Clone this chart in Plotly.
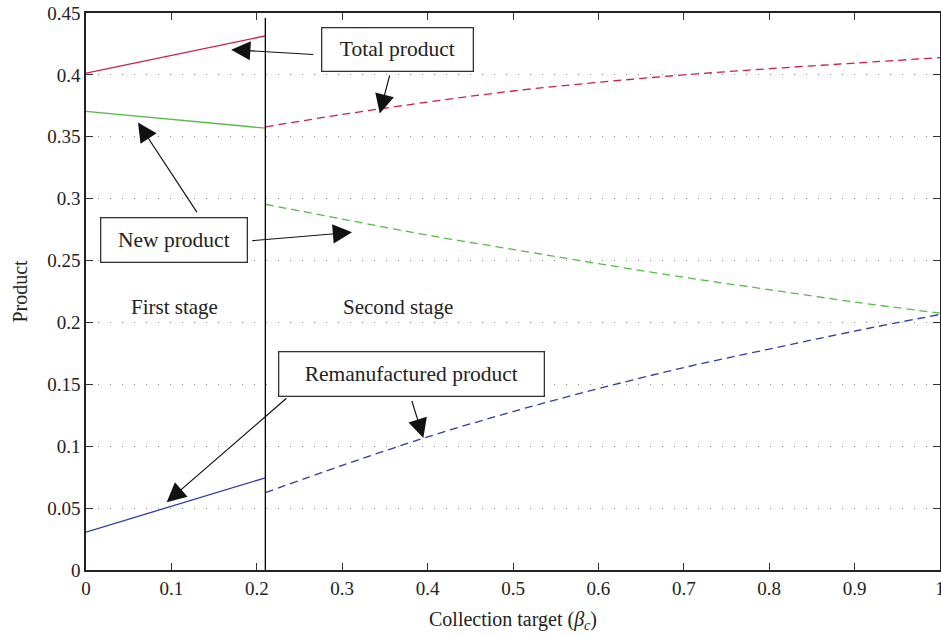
import plotly.graph_objects as go

# ---- data ----
x_stage1 = [0.0, 0.1, 0.21]
total_stage1 = [0.4014, 0.4160, 0.4315]
new_stage1 = [0.3705, 0.3641, 0.3570]
reman_stage1 = [0.0306, 0.0515, 0.0745]

x_stage2 = [0.21, 0.3, 0.4, 0.5, 0.6, 0.7, 0.8, 0.9, 1.0]
total_stage2 = [0.358, 0.368, 0.378, 0.387, 0.394, 0.400, 0.405, 0.4095, 0.414]
new_stage2 = [0.2955, 0.2835, 0.2705, 0.259, 0.2475, 0.2365, 0.2265, 0.2165, 0.2075]
reman_stage2 = [0.0625, 0.0845, 0.1075, 0.128, 0.1465, 0.1635, 0.1785, 0.1930, 0.2065]

stage_boundary = 0.21
x_ticks = [0.0, 0.1, 0.2, 0.3, 0.4, 0.5, 0.6, 0.7, 0.8, 0.9, 1.0]
x_tick_labels = ["0", "0.1", "0.2", "0.3", "0.4", "0.5", "0.6", "0.7", "0.8", "0.9", "1"]
y_ticks = [0, 0.05, 0.1, 0.15, 0.2, 0.25, 0.3, 0.35, 0.4, 0.45]
y_tick_labels = ["0", "0.05", "0.1", "0.15", "0.2", "0.25", "0.3", "0.35", "0.4", "0.45"]

RED = "#d01c45"
GREEN = "#55bb45"
BLUE = "#2b3ea8"
FONT = "Liberation Serif"

fig = go.Figure()
for xs, ys, col, dash, shape in [
    (x_stage1, total_stage1, RED, "solid", "linear"),
    (x_stage1, new_stage1, GREEN, "solid", "linear"),
    (x_stage1, reman_stage1, BLUE, "solid", "linear"),
    (x_stage2, total_stage2, RED, "8px,5px", "spline"),
    (x_stage2, new_stage2, GREEN, "8px,5px", "spline"),
    (x_stage2, reman_stage2, BLUE, "8px,5px", "spline"),
]:
    fig.add_trace(go.Scatter(x=xs, y=ys, mode="lines",
                             line=dict(color=col, width=1.3, dash=dash, shape=shape),
                             showlegend=False, hoverinfo="skip"))

fig.add_shape(type="line", x0=stage_boundary, x1=stage_boundary, y0=0, y1=0.446,
              xref="x", yref="y", line=dict(color="black", width=1.3))

# boxes: text, center x, center y, width px, height px
boxes = [
    ("Total product", 0.365, 0.4207, 150, 42),
    ("New product", 0.1036, 0.2668, 145, 43),
    ("Remanufactured product", 0.3817, 0.1586, 264, 43),
]
for text, bx, by, w, h in boxes:
    fig.add_annotation(x=bx, y=by, xref="x", yref="y", text=text, showarrow=False,
                       font=dict(family=FONT, size=21.5, color="#222"),
                       bordercolor="#333", borderwidth=1.3, borderpad=0,
                       bgcolor="white", width=w, height=h)

# arrows: (tip_x, tip_y, tail_x, tail_y)
arrows = [
    (0.170, 0.4204, 0.268, 0.4164),
    (0.344, 0.3688, 0.356, 0.4008),
    (0.0609, 0.3615, 0.131, 0.2879),
    (0.3115, 0.2728, 0.193, 0.266),
    (0.0945, 0.0548, 0.2365, 0.1398),
    (0.395, 0.1067, 0.381, 0.1379),
]
for tx, ty, ax, ay in arrows:
    fig.add_annotation(x=tx, y=ty, ax=ax, ay=ay, xref="x", yref="y", axref="x", ayref="y",
                       text="", showarrow=True, arrowhead=2, arrowsize=3.2, arrowwidth=1.2,
                       arrowcolor="#111")

for text, tx in [("First stage", 0.1036), ("Second stage", 0.365)]:
    fig.add_annotation(x=tx, y=0.2121, xref="x", yref="y", text=text, showarrow=False,
                       font=dict(family=FONT, size=21, color="#222"))

fig.update_layout(
    width=941, height=637,
    margin=dict(l=86, r=1, t=13, b=67),
    plot_bgcolor="white", paper_bgcolor="white",
    font=dict(family=FONT, size=19, color="#222"),
)
fig.update_xaxes(range=[0, 1], tickvals=x_ticks, ticktext=x_tick_labels,
                 ticks="inside", ticklen=7, tickcolor="#333", showline=True, linecolor="#222",
                 linewidth=1.5, mirror="ticks", showgrid=False, zeroline=False,
                 ticklabeloverflow="allow", automargin=False,
                 title=dict(text="Collection target (<i>β<sub>c</sub></i>)", standoff=14,
                            font=dict(family=FONT, size=20)),
                 tickfont=dict(family=FONT, size=19))
fig.update_yaxes(range=[0, 0.45], tickvals=y_ticks, ticktext=y_tick_labels,
                 ticks="inside", ticklen=7, tickcolor="#333", showline=True, linecolor="#222",
                 linewidth=1.5, mirror="ticks", showgrid=True, gridcolor="#888",
                 griddash="1px,11px", gridwidth=1, zeroline=False,
                 ticklabeloverflow="allow", automargin=False,
                 title=dict(text="Product", standoff=14, font=dict(family=FONT, size=20)),
                 tickfont=dict(family=FONT, size=19))

fig.write_html("out.html", config={"displayModeBar": False},
               post_script="document.body.style.margin='0';")
